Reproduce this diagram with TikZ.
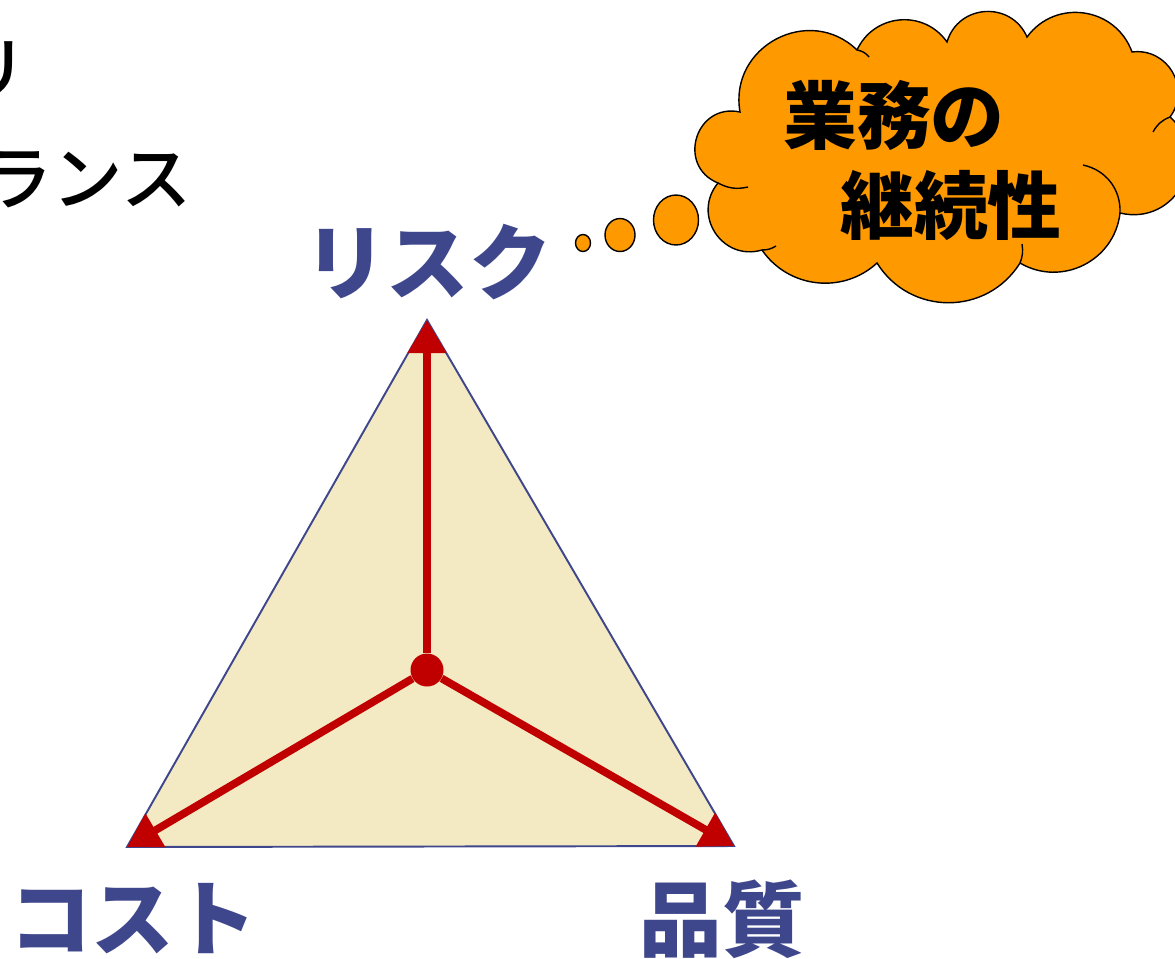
\documentclass[tikz,border=0pt]{standalone}
\usepackage{fontspec}
\setmainfont{Noto Sans CJK JP}
\newfontfamily\heavyfont{Noto Sans CJK JP Black}
\newfontfamily\mediumfont{Noto Sans CJK JP Medium}
\usetikzlibrary{arrows.meta, shapes.geometric}
\definecolor{label_blue}{HTML}{3F478C}
\definecolor{light_cream}{HTML}{F3EAC3}
\definecolor{dark_red}{HTML}{C00000}
\definecolor{cloud_orange}{HTML}{FF9900}

\begin{document}
\begin{tikzpicture}[
    x=0.02cm, y=-0.02cm,
    corner/.style={text=label_blue, font=\heavyfont\fontsize{47}{50}\selectfont, inner sep=0pt},
    heading/.style={font=\mediumfont\fontsize{40}{44}\selectfont, inner sep=0pt},
    thought/.style={font=\heavyfont\fontsize{42}{46}\selectfont, inner sep=0pt},
    outline/.style={draw=black, line width=0.8pt},
    bubble/.style={ellipse, outline, fill=cloud_orange, inner sep=0pt},
    axis/.style={draw=dark_red, line width=4.4pt, -{Triangle[length=0.66cm, width=0.74cm]}},
]
    \useasboundingbox (0,0) rectangle (1175,958);
    \clip (0,0) rectangle (1175,958);

    % triangle
    \coordinate (top) at (427,320);
    \coordinate (bottom_left) at (127,847);
    \coordinate (bottom_right) at (734,846);
    \draw[label_blue, line width=1.1pt, fill=light_cream] (top) -- (bottom_left) -- (bottom_right) -- cycle;

    %nodes
    \node[circle, fill=dark_red, minimum size=0.66cm, inner sep=0pt] (hub) at (427,670) {};

    % connections
    \foreach \c in {top, bottom_left, bottom_right} {
        \draw[axis] (hub) -- (\c);
    }

    % labels
    \node[corner] (risk_label) at (428,262) {リスク};
    \node[corner] (cost_label) at (133,919) {コスト};
    \node[corner] (quality_label) at (722,919) {品質};

    % heading, cut off at the left
    \node[heading, anchor=east] (heading_top) at (28,70) {リ};
    \node[heading, anchor=east] (heading_balance) at (192,180) {ランス};

    % thought cloud
    \filldraw[outline, fill=cloud_orange] (718,183)
        to[bend left=85, looseness=1.56] (740,112)
        to[bend left=72, looseness=1.29] (857,50)
        to[bend left=60, looseness=1.14] (947,42)
        to[bend left=70, looseness=1.27] (1027,37)
        to[bend left=62, looseness=1.16] (1132,52)
        to[bend left=67, looseness=1.22] (1170,117)
        to[bend left=76, looseness=1.37] (1120,213)
        to[bend left=57, looseness=1.10] (1020,263)
        to[bend left=58, looseness=1.12] (877,263)
        to[bend left=49, looseness=1.03] (762,250)
        to[bend left=73, looseness=1.32] (718,183) -- cycle;
    \draw[outline] (718,183) to[bend right=20] (748,187);
    \draw[outline] (762,250) to[bend right=15] (776,246);
    \draw[outline] (857,50) to[bend left=20] (869,57);
    \draw[outline] (1170,117) to[bend right=20] (1153,132);
    \draw[outline] (1083,165) to[bend left=40] (1120,213);
    \draw[outline] (1020,263) to[bend right=15] (1022,244);
    \node[bubble, minimum width=0.3cm, minimum height=0.34cm] (bubble_small) at (583,243) {};
    \node[bubble, minimum width=0.6cm, minimum height=0.66cm] (bubble_mid) at (620,235) {};
    \node[bubble, minimum width=0.9cm, minimum height=1cm] (bubble_big) at (676,220) {};
    \node[thought, anchor=west] (cloud_line1) at (783,115) {業務の};
    \node[thought, anchor=west] (cloud_line2) at (840,205) {継続性};
\end{tikzpicture}
\end{document}
